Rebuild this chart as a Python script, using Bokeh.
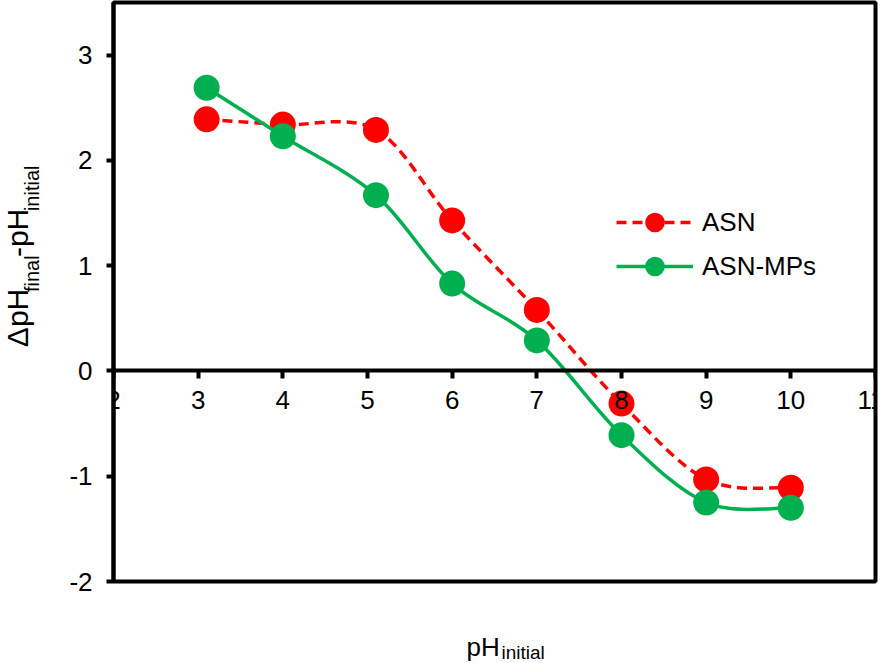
import math
from bokeh.plotting import figure
from bokeh.layouts import row, column
from bokeh.models import Range1d, FixedTicker, Label, Legend, LegendItem, ColumnDataSource
from bokeh.embed import file_html
from bokeh.resources import INLINE

# ---- data ----
ph_initial = [3.1, 4.0, 5.1, 6.0, 7.0, 8.0, 9.0, 10.0]
asn = [2.39, 2.34, 2.29, 1.43, 0.58, -0.31, -1.03, -1.11]
asn_mps = [2.69, 2.23, 1.67, 0.83, 0.29, -0.61, -1.25, -1.30]
x_ticks = [2, 3, 4, 5, 6, 7, 8, 9, 10, 11]
y_ticks = [-2, -1, 0, 1, 2, 3]
series_names = ["ASN", "ASN-MPs"]
series_colors = ["#FF0000", "#00B050"]

FONT = "Liberation Sans"
YT_W = 50          # width of the strip holding the y title
MAIN_H = 630       # height of the main figure
XT_H = 663 - MAIN_H
K = 0.42           # empirical baseline correction (fraction of font size)


def smooth_segments(xs, ys):
    """Bezier control points for a smoothed line through the data (Excel-like)."""
    n = len(xs)
    d = dict(x0=[], y0=[], x1=[], y1=[], cx0=[], cy0=[], cx1=[], cy1=[])
    for i in range(n - 1):
        a = max(i - 1, 0)
        b = min(i + 2, n - 1)
        d["x0"].append(xs[i]); d["y0"].append(ys[i])
        d["x1"].append(xs[i + 1]); d["y1"].append(ys[i + 1])
        d["cx0"].append(xs[i] + (xs[i + 1] - xs[a]) / 6.0)
        d["cy0"].append(ys[i] + (ys[i + 1] - ys[a]) / 6.0)
        d["cx1"].append(xs[i + 1] - (xs[b] - xs[i]) / 6.0)
        d["cy1"].append(ys[i + 1] - (ys[b] - ys[i]) / 6.0)
    return ColumnDataSource(d)


p = figure(width=884 - YT_W, height=MAIN_H, output_backend="svg", toolbar_location=None,
           x_range=Range1d(2, 11), y_range=Range1d(-2, 3.5),
           min_border_left=113 - YT_W, min_border_right=9, min_border_top=2,
           min_border_bottom=MAIN_H - 581)
p.background_fill_color = "white"
p.border_fill_color = "white"
p.outline_line_color = "black"
p.outline_line_width = 4
p.xgrid.visible = False
p.ygrid.visible = False

# x axis crossing at y = 0
xa = p.xaxis[0]
xa.fixed_location = 0
xa.ticker = FixedTicker(ticks=x_ticks)
xa.axis_line_width = 4
xa.major_tick_line_width = 4
xa.major_tick_out = 8
xa.major_tick_in = 0
xa.minor_tick_line_color = None
xa.major_label_text_font = FONT
xa.major_label_text_font_size = "26px"
xa.major_label_text_color = "black"
xa.major_label_standoff = 12

ya = p.yaxis[0]
ya.ticker = FixedTicker(ticks=y_ticks)
ya.major_label_overrides = {t: str(t) for t in y_ticks}
ya.axis_line_width = 4
ya.major_tick_line_width = 4
ya.major_tick_out = 7
ya.major_tick_in = 0
ya.minor_tick_line_color = None
ya.major_label_text_font = FONT
ya.major_label_text_font_size = "26px"
ya.major_label_text_color = "black"
ya.major_label_standoff = 14

items = []
for name, color, ys, dash in zip(series_names, series_colors, [asn, asn_mps], ["10 6", "solid"]):
    src = smooth_segments(ph_initial, ys)
    lr = p.bezier(x0="x0", y0="y0", x1="x1", y1="y1", cx0="cx0", cy0="cy0",
                  cx1="cx1", cy1="cy1", source=src, line_color=color,
                  line_width=3.5, line_dash=dash)
    sr = p.scatter(ph_initial, ys, marker="circle", size=24, fill_color=color,
                   line_color=color, line_width=2)
    items.append(LegendItem(label=name, renderers=[lr, sr]))

legend = Legend(items=items, location=(503, 293), padding=0, margin=0, spacing=0,
                glyph_width=77, glyph_height=44, label_height=44, label_standoff=9,
                label_text_font=FONT, label_text_font_size="26px",
                label_text_color="black", border_line_alpha=0,
                background_fill_alpha=0)
p.add_layout(legend, "center")


def strip(w, h):
    f = figure(width=w, height=h, output_backend="svg", toolbar_location=None,
               x_range=Range1d(0, w), y_range=Range1d(h, 0),
               x_axis_type=None, y_axis_type=None, min_border=0,
               min_border_left=0, min_border_right=0, min_border_top=0,
               min_border_bottom=0)
    f.outline_line_color = None
    f.xgrid.visible = False
    f.ygrid.visible = False
    f.background_fill_color = "white"
    f.border_fill_color = "white"
    return f


# y title strip: ΔpH_final - pH_initial (rotated); (text, baseline x, start y, size)
yt = strip(YT_W, MAIN_H)
title_y = [("\u0394pH", 30, 375, 30), ("final", 40, 315, 20),
           ("-pH", 30, 277, 30), ("initial", 40, 227, 20)]
for txt, xx, yy, fs in title_y:
    yt.add_layout(Label(x=xx - K * fs, y=yy, text=txt, text_font=FONT,
                        text_font_size=f"{fs}px", text_color="black", angle=math.pi / 2,
                        text_baseline="alphabetic", text_align="left"))

# x title strip: pH_initial; (text, start x, baseline y on page, size)
xt = strip(884, XT_H)
title_x = [("pH", 466, 657, 26), ("initial", 501, 660, 19)]
for txt, xx, yy, fs in title_x:
    xt.add_layout(Label(x=xx, y=yy - MAIN_H - K * fs, text=txt, text_font=FONT,
                        text_font_size=f"{fs}px", text_color="black",
                        text_baseline="alphabetic", text_align="left"))

layout = column(row(yt, p, spacing=0), xt, spacing=0)
open("out.html", "w").write(file_html(layout, INLINE))
